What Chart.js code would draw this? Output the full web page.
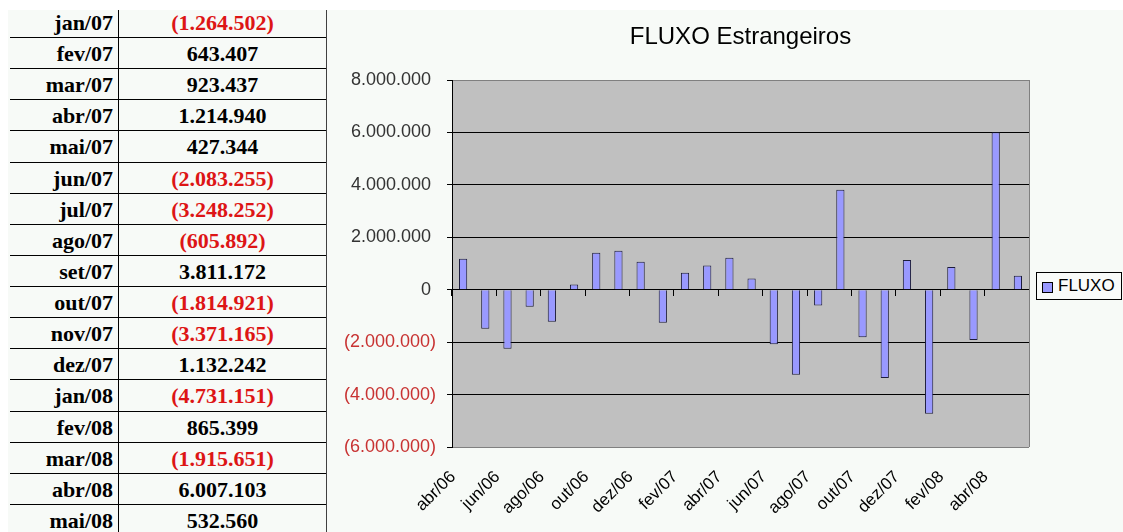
<!DOCTYPE html>
<html>
<head>
<meta charset="utf-8">
<script src="https://cdn.jsdelivr.net/npm/chart.js@4.4.0/dist/chart.umd.min.js"></script>
<style>
  html, body { margin: 0; padding: 0; }
  body { width: 1123px; height: 532px; overflow: hidden; background: #fff; position: relative; }
  #fundo { position: absolute; left: 8px; top: 10px; right: 0; bottom: 0; background: #f7faf7; }
  #tabela { position: absolute; left: 0; top: 0; width: 1123px; height: 532px; }
  .linha { position: absolute; left: 10px; width: 317px; border-bottom: 1px solid #000;
           font-family: "Liberation Serif", "Times New Roman", serif; font-weight: bold; font-size: 22px; color: #000; }
  .mes { position: absolute; left: 0; width: 103px; text-align: right; }
  .valor { position: absolute; left: 108px; width: 209px; text-align: center; }
  .neg { color: #dd1515; }
  #div1 { position: absolute; left: 118px; top: 10px; width: 1px; height: 522px; background: #000; }
  #div2 { position: absolute; left: 326px; top: 10px; width: 1px; height: 522px; background: #404040; }
  #topo { position: absolute; left: 0; top: 0; width: 1123px; height: 10px; background: #fff; }
  #grafico { position: absolute; left: 330px; top: 0; }
  #titulo { position: absolute; left: 452px; width: 577px; top: 23px; text-align: center;
            font-family: "Liberation Sans", Arial, sans-serif; font-size: 24px; line-height: 26px; color: #000; }
  #legenda { position: absolute; left: 1036px; top: 272px; width: 84px; height: 26px; border: 1px solid #000;
             background: #f9fbf9; font-family: "Liberation Sans", Arial, sans-serif; font-size: 17px; line-height: 26px; color: #000; }
  #legenda span.cor { position: absolute; left: 5px; top: 9px; width: 9px; height: 9px; background: #9999ff; border: 1px solid #000; }
  #legenda span.txt { position: absolute; left: 21px; top: 0; }
</style>
</head>
<body>
<div id="fundo"></div>
<div id="tabela"></div>
<div id="div1"></div>
<div id="div2"></div>
<div id="topo"></div>
<canvas id="grafico" width="793" height="532"></canvas>
<div id="titulo">FLUXO Estrangeiros</div>
<div id="legenda"><span class="cor"></span><span class="txt">FLUXO</span></div>
<script>
// meses do grafico (abr/06 a mai/08)
var meses = ['abr/06', 'mai/06', 'jun/06', 'jul/06', 'ago/06', 'set/06', 'out/06', 'nov/06', 'dez/06',
  'jan/07', 'fev/07', 'mar/07', 'abr/07', 'mai/07', 'jun/07', 'jul/07', 'ago/07', 'set/07', 'out/07',
  'nov/07', 'dez/07', 'jan/08', 'fev/08', 'mar/08', 'abr/08', 'mai/08'];

// fluxo estrangeiro por mes (2006, 2007/08 da tabela)
var fluxo = [1180000, -1490000, -2250000, -650000, -1220000, 200000, 1410000, 1490000, 1070000,
  -1264502, 643407, 923437, 1214940, 427344, -2083255, -3248252, -605892, 3811172, -1814921,
  -3371165, 1132242, -4731151, 865399, -1915651, 6007103, 532560];

// a tabela comeca em jan/07
var inicioTabela = 'jan/07';

// eixo y
var yMin = -6000000, yMax = 8000000, yPasso = 2000000;

function milhar(v) {
  return Math.abs(v).toString().replace(/\B(?=(\d{3})+(?!\d))/g, '.');
}
function formata(v) {
  return v < 0 ? '(' + milhar(v) + ')' : milhar(v);
}

// monta a tabela da esquerda
var tab = document.getElementById('tabela');
var i0 = meses.indexOf(inicioTabela);
for (var i = i0; i < meses.length; i++) {
  var k = i - i0;
  var topo = Math.round(6.9 + k * 31.13);
  var fundo = Math.round(6.9 + (k + 1) * 31.13);
  var row = document.createElement('div');
  row.className = 'linha';
  row.style.top = topo + 'px';
  row.style.height = (fundo - topo - 1) + 'px';
  row.style.lineHeight = (fundo - topo) + 'px';
  var m = document.createElement('span');
  m.className = 'mes';
  m.textContent = meses[i];
  var v = document.createElement('span');
  v.className = 'valor' + (fluxo[i] < 0 ? ' neg' : '');
  v.textContent = formata(fluxo[i]);
  row.appendChild(m);
  row.appendChild(v);
  tab.appendChild(row);
}

// fundo cinza da area de plotagem
var fundoPlot = {
  id: 'fundoPlot',
  beforeDraw: function(chart) {
    var a = chart.chartArea, c = chart.ctx;
    c.save();
    c.fillStyle = '#c0c0c0';
    c.fillRect(a.left, a.top, a.right - a.left, a.bottom - a.top);
    c.restore();
  },
  afterDraw: function(chart) {
    var a = chart.chartArea, c = chart.ctx;
    c.save();
    c.strokeStyle = '#808080';
    c.lineWidth = 1;
    c.beginPath();
    c.moveTo(Math.round(a.right) + 0.5, a.top);
    c.lineTo(Math.round(a.right) + 0.5, a.bottom);
    c.stroke();
    c.restore();
  }
};

var fonte = '"Liberation Sans", Arial, sans-serif';

new Chart(document.getElementById('grafico'), {
  type: 'bar',
  data: {
    labels: meses,
    datasets: [{
      label: 'FLUXO',
      data: fluxo,
      backgroundColor: '#9999ff',
      borderColor: '#1c1c3c',
      borderWidth: 1,
      barPercentage: 0.37,
      categoryPercentage: 1
    }]
  },
  options: {
    responsive: false,
    animation: false,
    layout: { padding: { top: 80, right: 94, bottom: 0, left: 0 } },
    plugins: {
      legend: { display: false },
      title: { display: false },
      tooltip: { enabled: false }
    },
    scales: {
      x: {
        offset: true,
        grid: { display: false, offset: true },
        border: { display: false },
        ticks: {
          autoSkip: false,
          maxRotation: 45,
          minRotation: 45,
          padding: 12,
          labelOffset: -10,
          color: '#000',
          font: { family: fonte, size: 17 },
          callback: function(val, idx) {
            return idx % 2 === 0 ? this.getLabelForValue(val) : '';
          }
        },
        afterFit: function(s) { s.height = 85; }
      },
      xZero: {
        axis: 'x',
        type: 'category',
        position: { y: 0 },
        offset: true,
        ticks: { display: false },
        grid: {
          offset: true,
          drawOnChartArea: false,
          tickLength: 6,
          tickColor: function(c) { return c.index % 2 === 0 ? '#000' : 'rgba(0,0,0,0)'; }
        },
        border: { color: '#000' }
      },
      y: {
        min: yMin,
        max: yMax,
        ticks: {
          stepSize: yPasso,
          padding: 11,
          font: { family: fonte, size: 18 },
          color: function(c) { return c.tick.value < 0 ? '#c83232' : '#333'; },
          callback: function(v) { return v < 0 ? formata(v) : formata(v) + ' '; }
        },
        grid: {
          tickLength: 5,
          tickColor: '#000',
          color: function(c) {
            if (!c.tick) return '#000';
            return (c.tick.value === yMax || c.tick.value === yMin) ? '#808080' : '#000';
          }
        },
        border: { color: '#000' },
        afterFit: function(s) { s.width = 122; }
      }
    }
  },
  plugins: [fundoPlot]
});
</script>
</body>
</html>
